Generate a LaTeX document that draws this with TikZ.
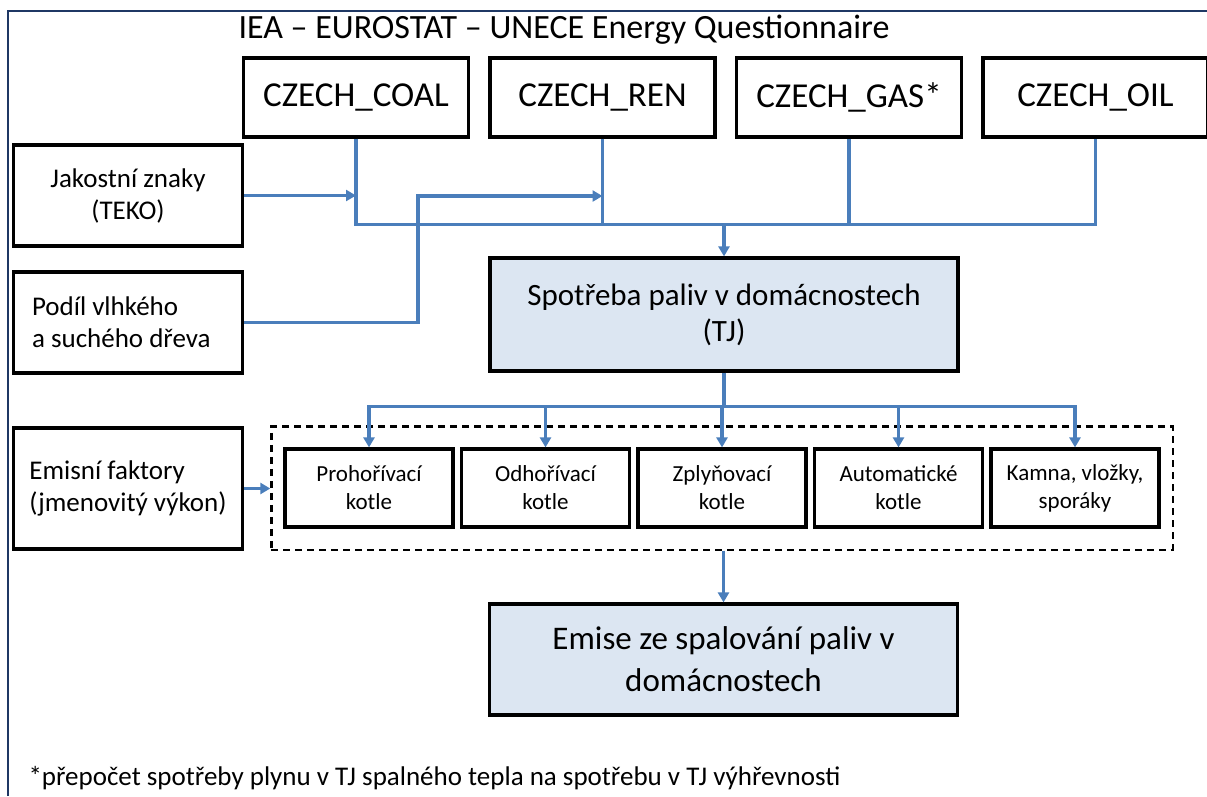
\documentclass[tikz,border=0pt]{standalone}
\usepackage{fontspec}
\setmainfont{Carlito}
\usepackage{tikz}
\definecolor{linkblue}{RGB}{74,126,187}
\definecolor{fillblue}{RGB}{220,230,242}
\definecolor{framenavy}{RGB}{31,56,100}
\newcommand{\fsz}[2]{\fontsize{#1}{#2}\selectfont}
\usetikzlibrary{arrows.meta, fit}

\begin{document}
\begin{tikzpicture}[
            x=1pt, y=-1pt,
            >={Triangle[width=11pt,length=10pt]},
                base/.style = {rectangle, draw=black, line width=3.2pt,
                            inner sep=0pt, text centered, align=center},
                sourceBox/.style = {base, minimum width=225pt, minimum height=79pt,
                            font=\fsz{35}{40}},
                inputBox/.style = {base, minimum width=229pt, font=\fsz{27}{32}},
                resultBox/.style = {base, fill=fillblue, minimum width=468pt},
                boilerBox/.style = {base, minimum width=168pt, minimum height=78pt,
                            font=\fsz{23}{28}},
                groupBox/.style = {draw=black, line width=2.2pt, dash pattern=on 7pt off 5pt,
                            inner xsep=12pt, inner ysep=21pt},
                link/.style = {draw=linkblue, line width=3.3pt},
            node distance=246.5pt]
            \useasboundingbox (0,0) rectangle (1207,796);
            \draw[framenavy, line width=2.2pt] (8,796) |- (1207,11);
            \node (title) at (564,30) [font=\fsz{34}{40}] {IEA – EUROSTAT – UNECE Energy Questionnaire};
            \node (coal) at (356,97.5) [sourceBox] {CZECH\_COAL};
            \node (ren) [sourceBox, right of=coal] {CZECH\_REN};
            \node (gas) [sourceBox, right of=ren] {CZECH\_GAS*};
            \node (oil) [sourceBox, right of=gas] {CZECH\_OIL};
            \node (jakost) at (128,195.5) [inputBox, minimum height=101pt] {
                Jakostní znaky\\(TEKO)
            };
            \node (podil) [inputBox, minimum height=101pt, node distance=127pt,
                below of=jakost, text width=192pt, align=flush left] {
                Podíl vlhkého\\a suchého dřeva
            };
            \node (emisni) [inputBox, minimum height=121pt, node distance=166pt,
                below of=podil, align=left] {
                Emisní faktory\\(jmenovitý výkon)
            };
            \node (spotreba) at (724,314.5) [resultBox, minimum height=113pt, font=\fsz{31}{36}] {
                Spotřeba paliv v domácnostech\\(TJ)
            };
            \node (prohor) at (369,488) [boilerBox] {Prohořívací\\kotle};
            \node (odhor) [boilerBox, node distance=176.5pt, right of=prohor] {Odhořívací\\kotle};
            \node (zplyn) [boilerBox, node distance=176.5pt, right of=odhor] {Zplyňovací\\kotle};
            \node (autom) [boilerBox, node distance=176.5pt, right of=zplyn] {Automatické\\kotle};
            \node (kamna) [boilerBox, node distance=176.5pt, right of=autom] {Kamna, vložky,\\sporáky};
            \node (kotleGroup) [groupBox, fit=(prohor) (kamna)] {};
            \node (emise) at (723.5,659.5) [resultBox, minimum height=111pt, font=\fsz{33}{42}] {
                Emise ze spalování paliv v\\domácnostech
            };
            \node (note) at (25,778) [anchor=west, font=\fsz{27}{30}] {
                *přepočet spotřeby plynu v TJ spalného tepla na spotřebu v TJ výhřevnosti
            };
            \coordinate (busTop) at ([yshift=32pt]spotreba.north);
            \coordinate (busMid) at ([yshift=-34pt]spotreba.south);
            \coordinate (podilBend) at (418,196);
            \draw[link] (coal.south) |- (busTop) -| (oil.south);
            \draw[link] (ren.south) -- (ren.south |- busTop);
            \draw[link] (gas.south) -- (gas.south |- busTop);
            \draw[link, ->] (busTop) -- (spotreba.north);
            \draw[link, ->] (jakost.east) -- (jakost.east -| coal.south);
            \draw[link, ->] (podil.east) -| (podilBend) -- (podilBend -| ren.south);
            \draw[link] (spotreba.south) -- (busMid);
            \foreach \boiler in {prohor, odhor, zplyn, autom, kamna}
                \draw[link, ->] (busMid) -| (\boiler.north);
            \draw[link, ->] (emisni.east) -- (emisni.east -| kotleGroup.west);
            \draw[link, ->] (kotleGroup.south -| emise.north) -- (emise.north);
        \end{tikzpicture}
\end{document}
